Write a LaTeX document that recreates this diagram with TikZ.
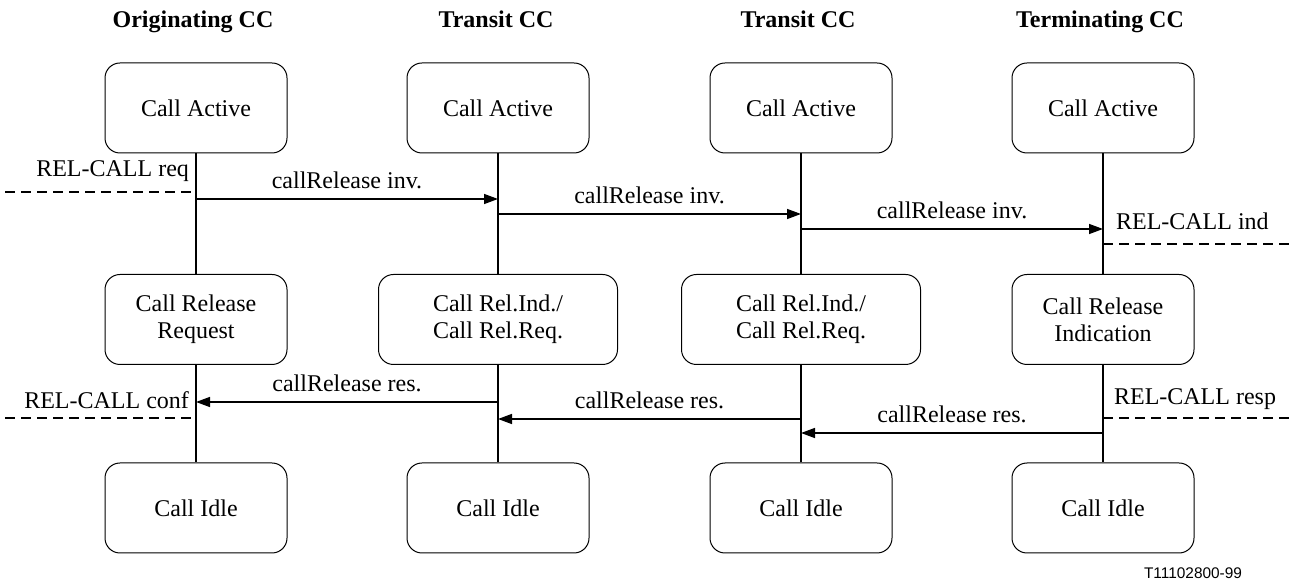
\documentclass[tikz,border=0pt]{standalone}
\usepackage{fontspec}
\setmainfont{Liberation Serif}
\newfontfamily\tagfont{Liberation Sans}
\usetikzlibrary{arrows.meta}

\begin{document}
\begin{tikzpicture}[
  x=0.5pt,y=-0.5pt,
  state/.style={draw,rounded corners=7.5pt,line width=0.5pt,minimum width=91pt,
    minimum height=45pt,align=center,font=\fontsize{12}{13.5}\selectfont},
  widestate/.style={state,minimum width=119.5pt},
  hdr/.style={anchor=base,font=\fontsize{12}{14}\selectfont\bfseries},
  life/.style={line width=0.7pt},
  msg/.style={line width=0.7pt,-{Triangle[length=7pt,width=5pt]}},
  prim/.style={line width=0.7pt,dash pattern=on 5pt off 3pt},
  mlabel/.style={font=\fontsize{12}{14}\selectfont},
]
\useasboundingbox (0,0) rectangle (1295,581);

% headers
\node[hdr] (hdo)  at (193,28) {Originating CC};
\node[hdr] (hdta) at (496,28) {Transit CC};
\node[hdr] (hdtb) at (798,28) {Transit CC};
\node[hdr] (hdt)  at (1100,28) {Terminating CC};

% states
\node[state] (o1)  at (196,108) {Call Active};
\node[state] (ta1) at (498,108) {Call Active};
\node[state] (tb1) at (801,108) {Call Active};
\node[state] (t1)  at (1103,108) {Call Active};

\node[state]     (o2)  at (196,319.5) {Call Release\\Request};
\node[widestate] (ta2) at (498,319.5) {Call Rel.Ind./\\Call Rel.Req.};
\node[widestate] (tb2) at (801,319.5) {Call Rel.Ind./\\Call Rel.Req.};
\node[state]     (t2)  at (1103,319.5) {Call Release\\Indication};

\node[state] (o3)  at (196,508) {Call Idle};
\node[state] (ta3) at (498,508) {Call Idle};
\node[state] (tb3) at (801,508) {Call Idle};
\node[state] (t3)  at (1103,508) {Call Idle};

% life lines
\draw[life] (o1) -- (o2) -- (o3);
\draw[life] (ta1) -- (ta2) -- (ta3);
\draw[life] (tb1) -- (tb2) -- (tb3);
\draw[life] (t1) -- (t2) -- (t3);

% invoke
\coordinate (o-inv)   at (196,199);
\coordinate (ta-inv)  at (498,199);
\coordinate (ta-inv2) at (498,214);
\coordinate (tb-inv)  at (801,214);
\coordinate (tb-inv2) at (801,229);
\coordinate (t-inv)   at (1103,229);
\draw[msg] (o-inv) -- node[mlabel,above=1.5pt] {callRelease inv.} (ta-inv);
\draw[msg] (ta-inv2) -- node[mlabel,above=1.5pt] {callRelease inv.} (tb-inv);
\draw[msg] (tb-inv2) -- node[mlabel,above=1.5pt] {callRelease inv.} (t-inv);

% result
\coordinate (t-res)   at (1103,433);
\coordinate (tb-res)  at (801,433);
\coordinate (tb-res2) at (801,419);
\coordinate (ta-res)  at (498,419);
\coordinate (ta-res2) at (498,402);
\coordinate (o-res)   at (196,402);
\draw[msg] (t-res) -- node[mlabel,above=1.5pt] {callRelease res.} (tb-res);
\draw[msg] (tb-res2) -- node[mlabel,above=1.5pt] {callRelease res.} (ta-res);
\draw[msg] (ta-res2) -- node[mlabel,above=1.5pt] {callRelease res.} (o-res);

% service primitives
\coordinate (o-req)   at (196,192);
\coordinate (req-end) at (5,192);
\draw[prim] (req-end) -- (o-req);
\node[mlabel,anchor=base east] (lreq) at ([yshift=7.5pt]o-req) {REL-CALL req};

\coordinate (o-conf)   at (196,418);
\coordinate (conf-end) at (5,418);
\draw[prim] (conf-end) -- (o-conf);
\node[mlabel,anchor=base east] (lconf) at ([yshift=4.5pt]o-conf) {REL-CALL conf};

\coordinate (t-ind)   at (1103,244);
\coordinate (ind-end) at (1295,244);
\draw[prim] (t-ind) -- (ind-end);
\node[mlabel,anchor=base west] (lind) at ([xshift=3pt,yshift=7pt]t-ind) {REL-CALL ind};

\coordinate (t-resp)   at (1103,418);
\coordinate (resp-end) at (1295,418);
\draw[prim] (t-resp) -- (resp-end);
\node[mlabel,anchor=base west] (lresp) at ([xshift=2pt,yshift=6.5pt]t-resp) {REL-CALL resp};

\node[font=\tagfont\fontsize{7.7}{9}\selectfont] (tag) at (1193,573) {T11102800-99};
\end{tikzpicture}
\end{document}
